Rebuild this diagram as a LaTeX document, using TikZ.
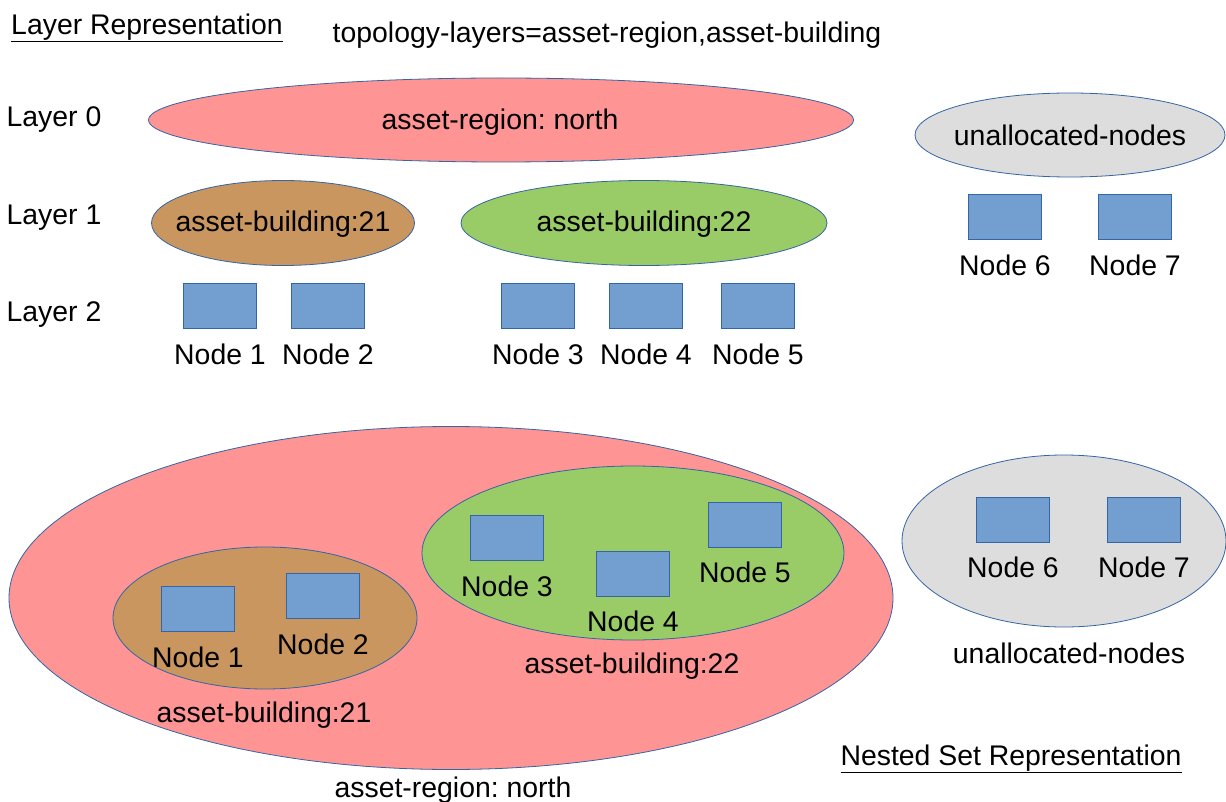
\documentclass[tikz,border=0pt]{standalone}
\usepackage{fontspec}
\setmainfont{Liberation Sans}
\usetikzlibrary{shapes.geometric}
\frenchspacing
\definecolor{regionpink}{HTML}{FF9494}
\definecolor{buildbrown}{HTML}{C99660}
\definecolor{buildgreen}{HTML}{99CC66}
\definecolor{unallocgrey}{HTML}{DDDDDD}
\definecolor{nodeblue}{HTML}{729FCF}
\definecolor{edgeblue}{HTML}{3465A4}
\tikzset{
  blob/.style={ellipse, draw=edgeblue, line width=0.8pt, inner sep=0pt},
  hostbox/.style={rectangle, draw=edgeblue, line width=0.8pt, fill=nodeblue,
    minimum width=73pt, minimum height=45pt, inner sep=0pt},
  lbl/.style={inner sep=0pt, font=\fontsize{28.4}{34}\selectfont\frenchspacing, text=black},
}
\begin{document}
\begin{tikzpicture}[x=1pt,y=-1pt]
\useasboundingbox[fill=white] (0,0) rectangle (1226,802);

% ---------- Layer representation ----------
\node[lbl] (title1) at (147,28) {\underline{Layer Representation}};
\node[lbl] (topo) at (607,35) {topology-layers=asset-region,asset-building};
\node[lbl] (l0) at (54,120) {Layer 0};
\node[lbl] (l1) at (54,218) {Layer 1};
\node[lbl] (l2) at (54,315) {Layer 2};

\node[blob, fill=regionpink, minimum width=705pt, minimum height=84pt] (regA) at (501,120) {};
\node[lbl] (regAt) at (500,122) {asset-region: north};

\node[blob, fill=buildbrown, minimum width=263pt, minimum height=85pt] (b21A) at (283,223) {};
\node[lbl] (b21At) at (283,224) {asset-building:21};
\node[blob, fill=buildgreen, minimum width=366pt, minimum height=85pt] (b22A) at (644,223) {};
\node[lbl] (b22At) at (644,224) {asset-building:22};

\node[blob, fill=unallocgrey, minimum width=310pt, minimum height=84pt] (unA) at (1070,135) {};
\node[lbl] (unAt) at (1070,135) {unallocated-nodes};

\node[hostbox] (n6A) at (1005,217) {};
\node[hostbox] (n7A) at (1135,217) {};
\node[lbl] (n6At) at (1005,265) {Node 6};
\node[lbl] (n7At) at (1135,265) {Node 7};

\node[hostbox] (n1A) at (220,306) {};
\node[hostbox] (n2A) at (328,306) {};
\node[hostbox] (n3A) at (538,306) {};
\node[hostbox] (n4A) at (646,306) {};
\node[hostbox] (n5A) at (758,306) {};
\node[lbl] (n1At) at (220,354) {Node 1};
\node[lbl] (n2At) at (328,354) {Node 2};
\node[lbl] (n3At) at (538,354) {Node 3};
\node[lbl] (n4At) at (646,354) {Node 4};
\node[lbl] (n5At) at (758,354) {Node 5};

% ---------- Nested set representation ----------
\node[blob, fill=regionpink, minimum width=884pt, minimum height=343pt] (regB) at (451,598) {};
\node[lbl] (regBt) at (453,790) {asset-region: north};

\node[blob, fill=buildbrown, minimum width=304pt, minimum height=142pt] (b21B) at (265,618) {};
\node[lbl] (b21Bt) at (264,715) {asset-building:21};
\node[hostbox] (n1B) at (198,609) {};
\node[hostbox] (n2B) at (323,596) {};
\node[lbl] (n1Bt) at (198,657) {Node 1};
\node[lbl] (n2Bt) at (323,644) {Node 2};

\node[blob, fill=buildgreen, minimum width=422pt, minimum height=174pt] (b22B) at (633,553) {};
\node[lbl] (b22Bt) at (632,666) {asset-building:22};
\node[hostbox] (n3B) at (507,538) {};
\node[hostbox] (n4B) at (633,574) {};
\node[hostbox] (n5B) at (745,525) {};
\node[lbl] (n3Bt) at (507,586) {Node 3};
\node[lbl] (n4Bt) at (633,621) {Node 4};
\node[lbl] (n5Bt) at (745,572) {Node 5};

\node[blob, fill=unallocgrey, minimum width=324pt, minimum height=172pt] (unB) at (1064,541) {};
\node[lbl] (unBt) at (1069,653) {unallocated-nodes};
\node[hostbox] (n6B) at (1013,520) {};
\node[hostbox] (n7B) at (1144,520) {};
\node[lbl] (n6Bt) at (1013,567) {Node 6};
\node[lbl] (n7Bt) at (1144,567) {Node 7};

\node[lbl] (title2) at (1011,759) {\underline{Nested Set Representation}};
\end{tikzpicture}
\end{document}
